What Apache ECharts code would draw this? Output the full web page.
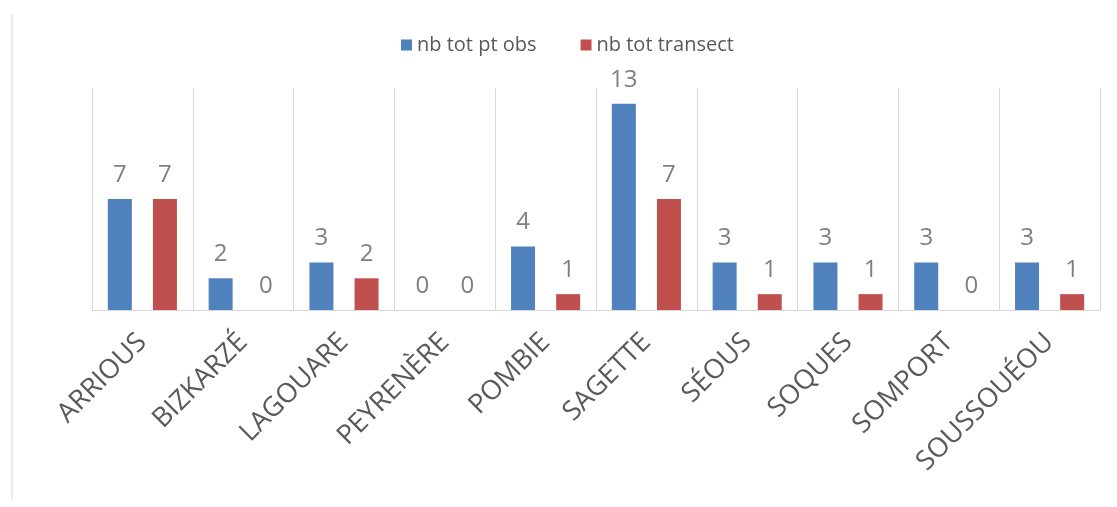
<!DOCTYPE html>
<html style="height: 100%">
    <head>
        <meta charset="utf-8">
        <script src="https://cdn.jsdelivr.net/npm/echarts@6/dist/echarts.min.js"></script>
    </head>
    <body style="height: 100%; margin: 0; background-color: #ffffff">
        <div id="container" style="width: 1117px; height: 507px"></div>
        <script type="text/javascript">
        // sites
        var sites = ['ARRIOUS', 'BIZKARZÉ', 'LAGOUARE', 'PEYRENÈRE', 'POMBIE', 'SAGETTE', 'SÉOUS', 'SOQUES', 'SOMPORT', 'SOUSSOUÉOU'];
        var ptObs = [7, 2, 3, 0, 4, 13, 3, 3, 3, 3];
        var transect = [7, 0, 2, 0, 1, 7, 1, 1, 0, 1];
        var seriesNames = ['nb tot pt obs', 'nb tot transect'];

        var chart = echarts.init(document.getElementById('container'));
        var labelStyle = {
            show: true,
            position: 'top',
            distance: 12,
            fontFamily: 'Open Sans',
            fontSize: 24,
            color: '#7f7f7f'
        };
        var option = {
            animation: false,
            color: ['#4F81BD', '#C0504D'],
            legend: {
                top: 30,
                left: 396,
                itemWidth: 11,
                itemHeight: 11,
                itemGap: 44,
                icon: 'rect',
                textStyle: {fontFamily: 'Open Sans', fontSize: 20, color: '#595959'},
                data: seriesNames
            },
            grid: {left: 92, right: 17, top: 88, bottom: 197},
            xAxis: {
                type: 'category',
                data: sites,
                axisLine: {lineStyle: {color: '#d9d9d9'}},
                axisTick: {show: false},
                splitLine: {show: true, lineStyle: {color: '#d9d9d9'}},
                axisLabel: {
                    rotate: 45,
                    margin: 28,
                    fontFamily: 'Open Sans',
                    fontSize: 27,
                    color: '#595959'
                }
            },
            yAxis: {
                type: 'value',
                min: 0,
                max: 14,
                show: false,
                splitLine: {show: false}
            },
            graphic: [{
                type: 'line',
                shape: {x1: 12, y1: 14, x2: 12, y2: 500},
                style: {stroke: '#d9d9d9', lineWidth: 1}
            }],
            series: [
                {
                    name: seriesNames[0],
                    type: 'bar',
                    barWidth: 24,
                    barGap: '88%',
                    label: labelStyle,
                    data: ptObs
                },
                {
                    name: seriesNames[1],
                    type: 'bar',
                    barWidth: 24,
                    label: labelStyle,
                    data: transect
                }
            ]
        };
        chart.setOption(option);
        </script>
    </body>
</html>
